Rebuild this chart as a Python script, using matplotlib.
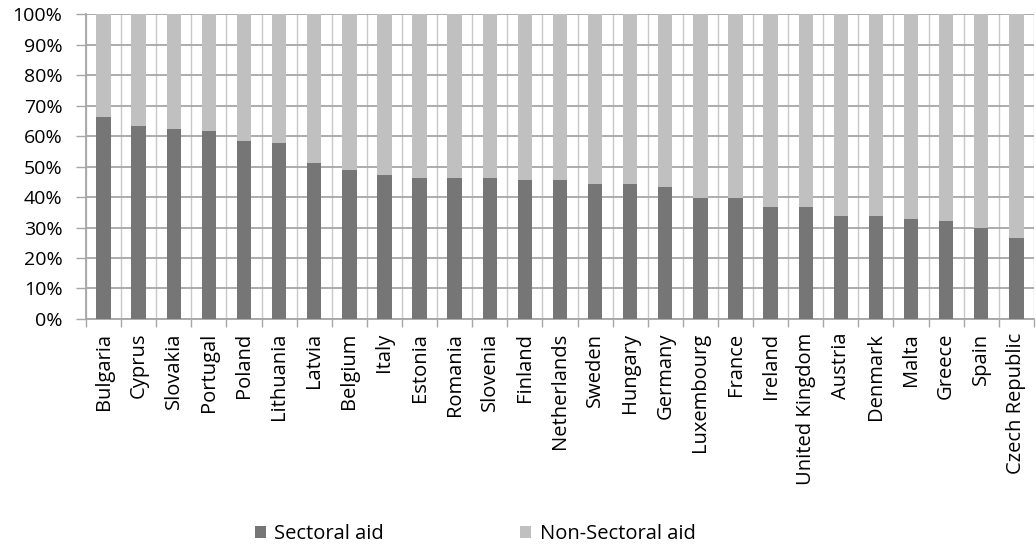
import matplotlib.pyplot as plt
import numpy as np

plt.rcParams['font.family'] = ['Open Sans', 'DejaVu Sans']

countries = ['Bulgaria', 'Cyprus', 'Slovakia', 'Portugal', 'Poland', 'Lithuania',
             'Latvia', 'Belgium', 'Italy', 'Estonia', 'Romania', 'Slovenia',
             'Finland', 'Netherlands', 'Sweden', 'Hungary', 'Germany',
             'Luxembourg', 'France', 'Ireland', 'United Kingdom', 'Austria',
             'Denmark', 'Malta', 'Greece', 'Spain', 'Czech Republic']
sectoral = [66.3, 63.2, 62.4, 61.6, 58.4, 57.6, 51.3, 48.8, 47.2, 46.4, 46.4, 46.4,
            45.7, 45.7, 44.2, 44.2, 43.3, 39.6, 39.6, 36.9, 36.9, 33.8, 33.8, 32.9,
            32.2, 29.8, 26.6]
non_sectoral = [100 - v for v in sectoral]

dark = '#767676'
light = '#C0C0C0'
grid = '#A6A6A6'

fig = plt.figure(figsize=(10.36, 5.48), dpi=100)
ax = fig.add_axes([0.083, 0.418, 0.915, 0.556])

x = np.arange(len(countries))
ax.bar(x, sectoral, width=0.41, color=dark, label='Sectoral aid', zorder=3)
ax.bar(x, non_sectoral, width=0.41, bottom=sectoral, color=light,
       label='Non-Sectoral aid', zorder=3)

ax.set_xlim(-0.5, len(countries) - 0.5)
ax.set_ylim(0, 100)
ax.set_yticks(np.arange(0, 101, 10))
ax.set_yticklabels(['%d%%' % v for v in range(0, 101, 10)], fontsize=14)
ax.yaxis.grid(True, color=grid, linewidth=1.3, zorder=0)

# vertical gridlines at category boundaries
for b in np.arange(-0.5, len(countries), 1.0):
    ax.axvline(b, color='#C8C8C8', linewidth=1.0, zorder=0)

ax.set_xticks(x)
ax.set_xticklabels(countries, rotation=90, fontsize=14.5)
ax.tick_params(axis='x', length=0, pad=10)
ax.set_xticks(np.arange(-0.5, len(countries), 1.0), minor=True)
ax.tick_params(axis='x', which='minor', length=6, color=grid, width=1)
ax.tick_params(axis='y', length=7, color=grid, width=1, pad=10)

for s in ['top', 'right']:
    ax.spines[s].set_visible(False)
for s in ['left', 'bottom']:
    ax.spines[s].set_color(grid)
    ax.spines[s].set_linewidth(1.3)

fig.legend(loc='center', bbox_to_anchor=(0.4585, 0.026), ncol=2, frameon=False,
           fontsize=14.5, handlelength=0.55, handleheight=0.55, handletextpad=0.4,
           columnspacing=6.8)

fig.savefig('out.png', dpi=100)
